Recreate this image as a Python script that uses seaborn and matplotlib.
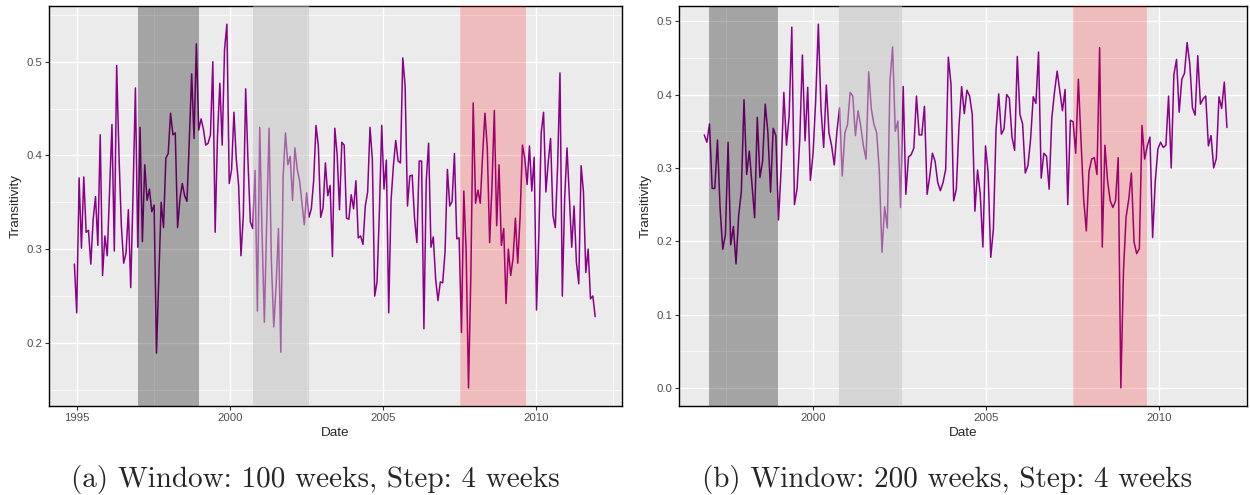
import pandas as pd
import seaborn as sns
import matplotlib.pyplot as plt

# Transitivity, 4-week step, window 100 weeks (panel a)
left_start = "1994-12-01"
left_values = [
    0.284, 0.232, 0.376, 0.301, 0.377, 0.318, 0.320, 0.284, 0.332, 0.356,
    0.304, 0.422, 0.272, 0.314, 0.293, 0.365, 0.433, 0.298, 0.496, 0.400,
    0.325, 0.285, 0.296, 0.342, 0.259, 0.360, 0.472, 0.302, 0.430, 0.308,
    0.390, 0.352, 0.364, 0.340, 0.347, 0.189, 0.270, 0.350, 0.323, 0.397,
    0.402, 0.445, 0.422, 0.424, 0.323, 0.354, 0.370, 0.357, 0.351, 0.417,
    0.487, 0.418, 0.519, 0.427, 0.439, 0.428, 0.411, 0.413, 0.422, 0.500,
    0.318, 0.421, 0.477, 0.411, 0.513, 0.540, 0.370, 0.385, 0.446, 0.396,
    0.368, 0.293, 0.336, 0.471, 0.393, 0.329, 0.322, 0.384, 0.234, 0.430,
    0.318, 0.222, 0.330, 0.429, 0.286, 0.217, 0.261, 0.322, 0.190, 0.378,
    0.424, 0.390, 0.399, 0.352, 0.408, 0.385, 0.373, 0.350, 0.326, 0.360,
    0.334, 0.343, 0.373, 0.432, 0.410,
    0.334, 0.344, 0.392, 0.357, 0.368, 0.292, 0.429, 0.401, 0.342, 0.414,
    0.411, 0.333, 0.332, 0.358, 0.343, 0.373, 0.312, 0.314, 0.305, 0.346,
    0.361, 0.430, 0.396, 0.250, 0.265, 0.340, 0.432, 0.364, 0.395, 0.232,
    0.352, 0.389, 0.416, 0.394, 0.392, 0.504, 0.474, 0.346, 0.378, 0.379,
    0.333, 0.307, 0.394, 0.394, 0.215, 0.373, 0.413, 0.302, 0.313, 0.268,
    0.245, 0.265, 0.264, 0.297, 0.385, 0.346, 0.351, 0.402, 0.311, 0.312,
    0.211, 0.362, 0.297, 0.152, 0.272, 0.456, 0.349, 0.363, 0.349, 0.400,
    0.445, 0.408, 0.307, 0.368, 0.448, 0.325, 0.390, 0.304, 0.322, 0.242,
    0.300, 0.272, 0.290, 0.333, 0.285, 0.334, 0.411, 0.397, 0.369, 0.410,
    0.362, 0.398, 0.235, 0.315, 0.424, 0.446, 0.361, 0.393, 0.418, 0.336,
    0.323, 0.389, 0.488, 0.250, 0.354, 0.408, 0.354, 0.302, 0.346, 0.286,
    0.263, 0.389, 0.361, 0.275, 0.300, 0.247, 0.250, 0.228,
]

# Transitivity, 4-week step, window 200 weeks (panel b)
right_start = "1996-11-10"
right_values = [
    0.345, 0.335, 0.360, 0.272, 0.272, 0.338, 0.244, 0.189, 0.209, 0.335,
    0.195, 0.220, 0.169, 0.235, 0.268, 0.393, 0.291, 0.323, 0.278, 0.232,
    0.369, 0.287, 0.309, 0.387, 0.348, 0.267, 0.354, 0.344, 0.229, 0.300,
    0.403, 0.331, 0.371, 0.492, 0.250, 0.272, 0.339, 0.454, 0.337, 0.410,
    0.283, 0.319, 0.393, 0.496, 0.380, 0.328, 0.413, 0.348, 0.330, 0.304,
    0.350, 0.382, 0.289, 0.348, 0.359, 0.403, 0.398, 0.344, 0.378, 0.357,
    0.330, 0.312, 0.431, 0.380, 0.359, 0.348, 0.296, 0.185, 0.247, 0.218,
    0.418, 0.465, 0.350, 0.364, 0.246, 0.411, 0.264, 0.315, 0.318, 0.327,
    0.398, 0.345, 0.345, 0.384, 0.264, 0.289, 0.320, 0.309, 0.280, 0.269,
    0.280, 0.298, 0.451,
    0.414, 0.255, 0.271, 0.357, 0.411, 0.374, 0.406, 0.398, 0.373, 0.241,
    0.297, 0.265, 0.192, 0.330, 0.294, 0.178, 0.217, 0.353, 0.401, 0.346,
    0.353, 0.400, 0.395, 0.342, 0.324, 0.452, 0.373, 0.360, 0.293, 0.303,
    0.339, 0.397, 0.388, 0.458, 0.286, 0.320, 0.316, 0.271, 0.368, 0.403,
    0.432, 0.405, 0.378, 0.407, 0.250, 0.365, 0.363, 0.320, 0.421, 0.337,
    0.257, 0.214, 0.295, 0.312, 0.314, 0.291, 0.464, 0.192, 0.331, 0.282,
    0.255, 0.246, 0.255, 0.314, 0.000, 0.160, 0.233, 0.257, 0.293, 0.199,
    0.183, 0.190, 0.358, 0.312, 0.330, 0.342, 0.205, 0.282, 0.326, 0.335,
    0.328, 0.331, 0.398, 0.300, 0.427, 0.448, 0.376, 0.421, 0.429, 0.471,
    0.442, 0.382, 0.372, 0.453, 0.387, 0.394, 0.398, 0.330, 0.344, 0.300,
    0.313, 0.397, 0.381, 0.417, 0.355,
]

# shaded crisis periods
period_starts = ["1997-01-01", "2000-10-01", "2007-07-05"]
period_ends = ["1999-01-01", "2002-07-31", "2009-08-29"]
period_colors = ["black", "#c0c0c0", "red"]
period_alphas = [0.30, 0.50, 0.20]

year_ticks = [1995, 2000, 2005, 2010]
captions = ["(a) Window: 100 weeks, Step: 4 weeks",
            "(b) Window: 200 weeks, Step: 4 weeks"]


def dec_year(d):
    d = pd.to_datetime(d)
    return d.year + (d.dayofyear - 1) / 365.25


def make_frame(start, values):
    dates = pd.date_range(start=start, periods=len(values), freq="28D")
    return pd.DataFrame({"Date": dec_year(dates), "Transitivity": values})


sns.set_theme(style="darkgrid", rc={
    "axes.facecolor": "#EBEBEB",
    "grid.color": "white",
    "axes.edgecolor": "black",
    "axes.linewidth": 1.0,
})
plt.rcParams["font.family"] = ["Liberation Sans", "DejaVu Sans"]

fig = plt.figure(figsize=(12.5, 4.95), dpi=100)
ax1 = fig.add_axes([0.0392, 0.1798, 0.4584, 0.808])
ax2 = fig.add_axes([0.5432, 0.1798, 0.4544, 0.808])

panels = [
    (ax1, make_frame(left_start, left_values), [0.2, 0.3, 0.4, 0.5], [0.15, 0.25, 0.35, 0.45, 0.55]),
    (ax2, make_frame(right_start, right_values), [0.0, 0.1, 0.2, 0.3, 0.4, 0.5],
     [0.05, 0.15, 0.25, 0.35, 0.45]),
]

for ax, df, yt, ymin in panels:
    sns.lineplot(data=df, x="Date", y="Transitivity", ax=ax, color="#8B008B", linewidth=1.1)
    for s, e, c, a in zip(period_starts, period_ends, period_colors, period_alphas):
        ax.axvspan(dec_year(s), dec_year(e), color=c, alpha=a, lw=0, zorder=3)
    ax.margins(x=0.05, y=0.05)
    xt = [t for t in year_ticks if df["Date"].min() - 0.9 < t < df["Date"].max() + 0.9]
    ax.set_xticks(xt)
    ax.set_xticklabels([str(t) for t in xt])
    ax.set_xticks([t + 2.5 for t in [1995, 2000, 2005, 2010]], minor=True)
    ax.set_yticks(yt)
    ax.set_yticklabels([f"{v:.1f}" for v in yt])
    ax.set_yticks(ymin, minor=True)
    ax.grid(which="major", color="white", linewidth=1.0)
    ax.grid(which="minor", color="white", linewidth=0.5)
    ax.tick_params(which="major", length=3, width=0.8, color="#333333",
                   labelsize=8.2, labelcolor="#4D4D4D", pad=2, bottom=True, left=True)
    ax.tick_params(which="minor", length=0)
    ax.set_xlabel("Date", fontsize=9.7, labelpad=3)
    ax.set_ylabel("Transitivity", fontsize=9.7, labelpad=3)
    for sp in ax.spines.values():
        sp.set_visible(True)
        sp.set_color("black")
        sp.set_linewidth(1.0)

# keep limits consistent with the data ranges
ax1.set_xlim(1994.085, 2012.81)
ax2.set_xlim(1996.13, 2012.54)

fig.text(315 / 1250, 1 - 480 / 495, captions[0], ha="center", va="center",
         fontfamily="cmr10", fontsize=21)
fig.text(947 / 1250, 1 - 480 / 495, captions[1], ha="center", va="center",
         fontfamily="cmr10", fontsize=21)

fig.savefig("out.png", dpi=100, facecolor="white")
